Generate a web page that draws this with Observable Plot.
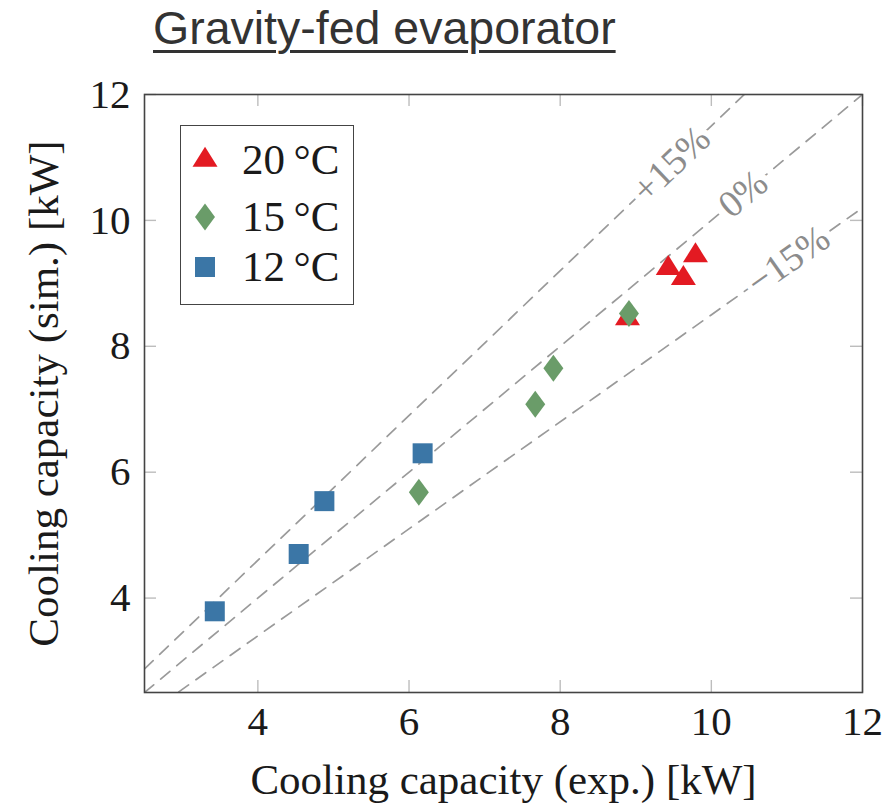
<!DOCTYPE html>
<html>
<head>
<meta charset="utf-8">
<script src="https://cdn.jsdelivr.net/npm/d3@7"></script>
<script src="https://cdn.jsdelivr.net/npm/@observablehq/plot@0.6"></script>
<style>
  html, body { margin: 0; padding: 0; background: #fff; }
  body { width: 885px; height: 811px; position: relative; overflow: hidden; }
  #title {
    position: absolute; left: 153px; top: 2px;
    font-family: "Liberation Sans", Arial, sans-serif; font-size: 46.5px; line-height: 52px;
    color: #333; white-space: nowrap;
    text-decoration: underline; text-decoration-thickness: 3px; text-underline-offset: 6px;
  }
  #chart { position: absolute; left: 0; top: 60px; }
  #legend {
    position: absolute; left: 180px; top: 125px; width: 174px; height: 180px;
    border: 1.6px solid #444; background: #fff; box-sizing: border-box;
    font-family: "Liberation Serif", "Times New Roman", serif; font-size: 43px; color: #1a1a1a;
  }
  .entry { position: absolute; left: 0; height: 50px; display: flex; align-items: center; white-space: nowrap; }
  .entry svg { margin-left: 9px; }
  .entry span { margin-left: 22px; line-height: 50px; }
</style>
</head>
<body>
<div id="title">Gravity-fed evaporator</div>
<div id="chart"></div>
<div id="legend"></div>
<script>
// ---- data ----
const series = ["20\u2009°C", "15\u2009°C", "12\u2009°C"];
const seriesColors = ["#e31a22", "#6a9c69", "#3b76a6"];
const exp20 = [8.89, 9.43, 9.63, 9.79];
const sim20 = [8.44, 9.24, 9.08, 9.44];
const exp15 = [6.13, 7.67, 7.91, 8.91];
const sim15 = [5.68, 7.08, 7.65, 8.52];
const exp12 = [3.43, 4.54, 4.88, 6.18];
const sim12 = [3.79, 4.70, 5.54, 6.30];
const deviations = [0.15, 0, -0.15];
const deviationLabels = ["+15%", "0%", "\u221215%"];
const deviationLabelX = [9.47, 10.42, 11.02];
const xTicks = [4, 6, 8, 10, 12];
const yTicks = [4, 6, 8, 10, 12];
const xDomain = [2.5, 12];
const yDomain = [2.5, 12];
const xLabel = "Cooling capacity (exp.) [kW]";
const yLabel = "Cooling capacity (sim.) [kW]";

// ---- layout ----
const W = 885, H = 751;
const mL = 144, mR = 23, mT = 34, mB = 119;
const plotW = W - mL - mR, plotH = H - mT - mB;
const tick = 12;
const aspect = (plotH / (yDomain[1] - yDomain[0])) / (plotW / (xDomain[1] - xDomain[0]));

// custom symbols (size = pi r^2)
const triangleSym = { draw(ctx, size) { const w = Math.sqrt(size / 0.4), h = 0.8 * w;
  ctx.moveTo(0, -2 * h / 3); ctx.lineTo(w / 2, h / 3); ctx.lineTo(-w / 2, h / 3); ctx.closePath(); } };
const diamondSym = { draw(ctx, size) { const h = Math.sqrt(size / 0.37), w = 0.74 * h;
  ctx.moveTo(0, -h / 2); ctx.lineTo(w / 2, 0); ctx.lineTo(0, h / 2); ctx.lineTo(-w / 2, 0); ctx.closePath(); } };
const squareSym = { draw(ctx, size) { const s = Math.sqrt(size);
  ctx.rect(-s / 2, -s / 2, s, s); } };
const symbols = [triangleSym, diamondSym, squareSym];
const radii = [Math.sqrt(250 / Math.PI), Math.sqrt(270 / Math.PI), Math.sqrt(400 / Math.PI)];

const pts = (xs, ys) => xs.map((x, i) => ({ x, y: ys[i] }));
const groups = [pts(exp20, sim20), pts(exp15, sim15), pts(exp12, sim12)];

const lineData = deviations.flatMap((d, i) => xDomain.map(x => ({ x, y: (1 + d) * x, g: i })));
const labelData = deviations.map((d, i) => ({
  x: deviationLabelX[i], y: (1 + d) * deviationLabelX[i], text: deviationLabels[i],
  rotate: -Math.atan((1 + d) * aspect) * 180 / Math.PI
}));

const chart = Plot.plot({
  width: W, height: H,
  marginLeft: mL, marginRight: mR, marginTop: mT, marginBottom: mB,
  style: { fontFamily: "'Liberation Serif', 'Times New Roman', serif", fontSize: "41px", color: "#1a1a1a", background: "white" },
  x: { domain: xDomain, ticks: xTicks },
  y: { domain: yDomain, ticks: yTicks },
  marks: [
    Plot.line(lineData, { x: "x", y: "y", z: "g", stroke: "#9a9a9a", strokeWidth: 1.7, strokeDasharray: "12,9", clip: true }),
    Plot.text(labelData, { x: "x", y: "y", text: "text", rotate: "rotate", fill: "#8c8c8c", stroke: "white", strokeWidth: 12, fontSize: 38 }),
    Plot.ruleX(xTicks, { x: d => d, stroke: "#bdbdbd", strokeWidth: 1.4, insetTop: plotH - tick }),
    Plot.ruleX(xTicks, { x: d => d, stroke: "#bdbdbd", strokeWidth: 1.4, insetBottom: plotH - tick }),
    Plot.ruleY(yTicks, { y: d => d, stroke: "#bdbdbd", strokeWidth: 1.4, insetRight: plotW - tick }),
    Plot.ruleY(yTicks, { y: d => d, stroke: "#bdbdbd", strokeWidth: 1.4, insetLeft: plotW - tick }),
    ...groups.map((g, i) => Plot.dot(g, { x: "x", y: "y", symbol: symbols[i], r: radii[i], fill: seriesColors[i], stroke: "none" })),
    Plot.frame({ stroke: "#444", strokeWidth: 1.6 }),
    Plot.axisX(xTicks, { anchor: "bottom", tickSize: 0, tickPadding: 13, label: null, tickFormat: d => String(d), fill: "#1a1a1a" }),
    Plot.axisY(yTicks, { anchor: "left", tickSize: 0, tickPadding: 14, label: null, tickFormat: d => String(d), fill: "#1a1a1a" }),
    Plot.text([xLabel], { frameAnchor: "bottom", dy: 101, fontSize: 43, fill: "#1a1a1a" }),
    Plot.text([yLabel], { frameAnchor: "left", textAnchor: "middle", rotate: -90, dx: -100, fontSize: 43, fill: "#1a1a1a" })
  ]
});
document.getElementById("chart").appendChild(chart);

// ---- legend ----
const legend = document.getElementById("legend");
const entryTops = [9, 66, 116];
series.forEach((name, i) => {
  const e = document.createElement("div");
  e.className = "entry";
  e.style.top = entryTops[i] + "px";
  const sz = 30;
  const path = d3.path();
  symbols[i].draw(path, radii[i] * radii[i] * Math.PI);
  e.innerHTML = `<svg width="${sz}" height="${sz}" viewBox="${-sz/2} ${-sz/2} ${sz} ${sz}"><path d="${path.toString()}" fill="${seriesColors[i]}"/></svg><span>${name}</span>`;
  legend.appendChild(e);
});
</script>
</body>
</html>
